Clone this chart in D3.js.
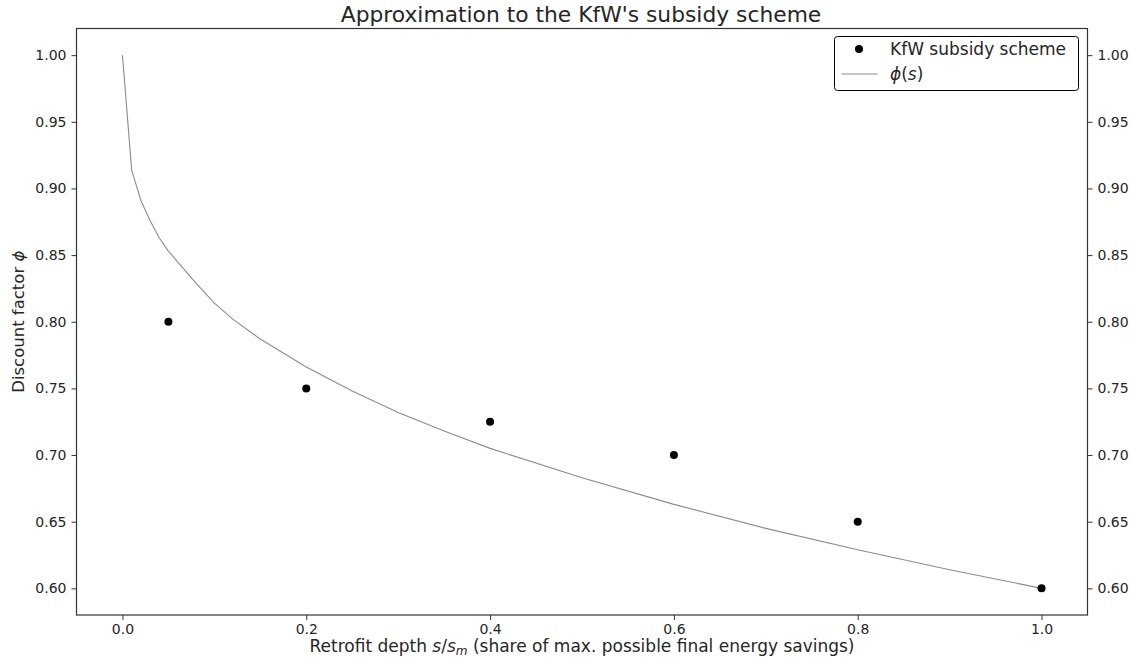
<!DOCTYPE html>
<html>
<head>
<meta charset="utf-8">
<script src="https://cdn.jsdelivr.net/npm/d3@7"></script>
<style>
  body { margin: 0; background: #fff; }
  text { font-family: "DejaVu Sans", sans-serif; fill: #262626; }
</style>
</head>
<body>
<svg id="chart" width="1131" height="664"></svg>
<script>
// KfW subsidy scheme points
const kfwDepth = [0.05, 0.2, 0.4, 0.6, 0.8, 1.0];
const kfwFactor = [0.80, 0.75, 0.725, 0.70, 0.65, 0.60];

// phi(s) curve
const phiDepth = [0, 0.01, 0.02, 0.03, 0.04, 0.05, 0.06, 0.08, 0.1, 0.12, 0.15, 0.2, 0.25, 0.3, 0.35, 0.4, 0.5, 0.6, 0.7, 0.8, 0.9, 1.0];
const phiValue = [1.0, 0.914, 0.891, 0.876, 0.863, 0.853, 0.845, 0.829, 0.814, 0.802, 0.787, 0.766, 0.748, 0.732, 0.718, 0.705, 0.683, 0.663, 0.645, 0.629, 0.614, 0.600];

const xTicks = [0, 0.2, 0.4, 0.6, 0.8, 1.0];
const yTicks = [0.60, 0.65, 0.70, 0.75, 0.80, 0.85, 0.90, 0.95, 1.00];

const margin = {top: 28.5, right: 43.5, bottom: 49, left: 76.5};
const width = 1131 - margin.left - margin.right;
const height = 664 - margin.top - margin.bottom;

const svg = d3.select('#chart');
const g = svg.append('g')
    .attr('transform', `translate(${margin.left}, ${margin.top})`);

const xScale = d3.scaleLinear().domain([-0.05, 1.05]).range([0, width]);
const yScale = d3.scaleLinear().domain([0.58, 1.02]).range([height, 0]);

// axes
const styleAxis = a => {
    a.select('.domain').remove();
    a.selectAll('.tick line').attr('stroke', '#333');
    a.selectAll('.tick text').style('font-size', '14px').attr('fill', '#262626');
};

g.append('g')
    .attr('transform', `translate(0, ${height})`)
    .call(d3.axisBottom(xScale).tickValues(xTicks).tickFormat(d3.format('.1f')).tickSize(5).tickPadding(4))
    .call(styleAxis);

g.append('g')
    .call(d3.axisLeft(yScale).tickValues(yTicks).tickFormat(d3.format('.2f')).tickSize(5).tickPadding(5))
    .call(styleAxis);

g.append('g')
    .attr('transform', `translate(${width}, 0)`)
    .call(d3.axisRight(yScale).tickValues(yTicks).tickFormat(d3.format('.2f')).tickSize(5).tickPadding(5))
    .call(styleAxis);

// frame
g.append('rect')
    .attr('width', width).attr('height', height)
    .attr('fill', 'none').attr('stroke', '#333').attr('stroke-width', 1.2);

// phi curve
const line = d3.line()
    .x((d, i) => xScale(phiDepth[i]))
    .y(d => yScale(d));

g.append('path')
    .datum(phiValue)
    .attr('d', line)
    .attr('fill', 'none')
    .attr('stroke', '#8c8c8c')
    .attr('stroke-width', 1.1);

// KfW points
g.selectAll('.pt')
    .data(kfwFactor)
    .enter()
    .append('circle')
    .attr('class', 'pt')
    .attr('cx', (d, i) => xScale(kfwDepth[i]))
    .attr('cy', d => yScale(d))
    .attr('r', 4)
    .attr('fill', '#000');

// title
svg.append('text')
    .attr('x', 581)
    .attr('y', 22)
    .attr('text-anchor', 'middle')
    .style('font-size', '21.8px')
    .text("Approximation to the KfW's subsidy scheme");

// x label
const xl = svg.append('text')
    .attr('x', 582)
    .attr('y', 652)
    .attr('text-anchor', 'middle')
    .style('font-size', '17px');
xl.append('tspan').text('Retrofit depth ');
xl.append('tspan').style('font-style', 'italic').text('s');
xl.append('tspan').text('/');
xl.append('tspan').style('font-style', 'italic').text('s');
xl.append('tspan').style('font-style', 'italic').style('font-size', '12px').attr('dy', 3).text('m');
xl.append('tspan').attr('dy', -3).text(' (share of max. possible final energy savings)');

// y label
const yl = svg.append('text')
    .attr('transform', `translate(24, ${margin.top + height / 2}) rotate(-90)`)
    .attr('text-anchor', 'middle')
    .style('font-size', '16.5px');
yl.append('tspan').text('Discount factor ');
yl.append('tspan').style('font-style', 'italic').text('ϕ');

// legend
const leg = svg.append('g').attr('transform', 'translate(834.5, 36.5)');
leg.append('rect')
    .attr('width', 244).attr('height', 54)
    .attr('rx', 3)
    .attr('fill', '#fff').attr('stroke', '#000').attr('stroke-width', 1);
leg.append('circle').attr('cx', 24.5).attr('cy', 12.5).attr('r', 4).attr('fill', '#000');
leg.append('text').attr('x', 55.5).attr('y', 18.5).style('font-size', '17px').text('KfW subsidy scheme');
leg.append('line')
    .attr('x1', 7).attr('x2', 43).attr('y1', 37.5).attr('y2', 37.5)
    .attr('stroke', '#8c8c8c').attr('stroke-width', 1.1);
const lt = leg.append('text').attr('x', 55.5).attr('y', 43.5).style('font-size', '17px');
lt.append('tspan').style('font-style', 'italic').text('ϕ');
lt.append('tspan').text('(');
lt.append('tspan').style('font-style', 'italic').text('s');
lt.append('tspan').text(')');
</script>
</body>
</html>
